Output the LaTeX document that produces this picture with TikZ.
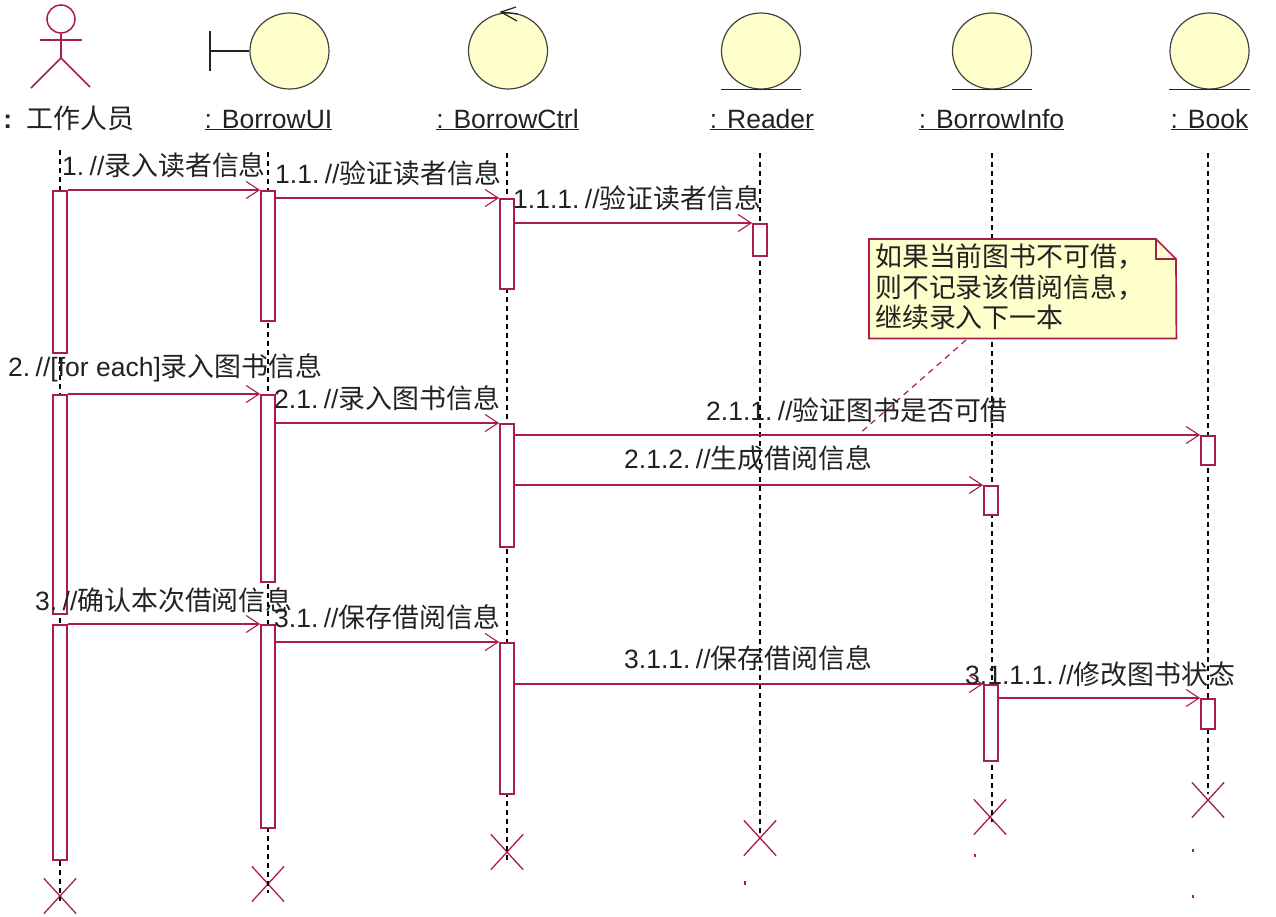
\documentclass[tikz,border=0pt]{standalone}
\usepackage{fontspec}
\setmainfont{Liberation Sans}
\newfontfamily\cjk{Noto Sans CJK SC}[Scale=1.015]
\newcommand{\zh}[1]{{\cjk #1}}
\newcommand{\msp}{\hspace{5.4pt}}
\usetikzlibrary{shapes.geometric,shapes.misc,arrows.meta}
\definecolor{uml}{HTML}{A81C50}
\definecolor{ink}{HTML}{222222}
\definecolor{note}{HTML}{FFFFCC}
\tikzset{
  every node/.style={text=ink,font=\fontsize{26.5}{30.5}\selectfont},
  obj/.style={ellipse,draw=ink!85,line width=1.2pt,fill=note,minimum width=79pt,minimum height=76pt,inner sep=0pt},
  head/.style={inner sep=0pt,anchor=base},
  msglabel/.style={anchor=west,inner sep=0pt},
  life/.style={draw=black,line width=1.4pt,dash pattern=on 5pt off 4pt},
  actbox/.style={rectangle,draw=uml,line width=1.7pt,fill=white,minimum width=14pt,inner sep=0pt,anchor=north},
  msg/.style={draw=uml,line width=1.7pt,-{Straight Barb[length=13pt,width=17pt,line width=1.1pt]}},
  endx/.style={cross out,draw=uml,line width=1.3pt,minimum width=31pt,minimum height=34pt,inner sep=0pt},
  umlline/.style={draw=uml,line width=1.7pt},
  inkline/.style={draw=ink,line width=1.5pt},
}
\begin{document}
\begin{tikzpicture}[x=1pt,y=-1pt]
\useasboundingbox (0,0) rectangle (1276,916);

% actor
\node[circle,draw=uml,line width=1.5pt,minimum size=28pt,inner sep=0pt] (head) at (61,19) {};
\coordinate (hip) at (61,58);
\coordinate (armL) at (40,40);
\coordinate (armR) at (82,40);
\coordinate (legL) at (31,88);
\coordinate (legR) at (90,87);
\draw[umlline] (head.south) -- (hip) -- (legL);
\draw[umlline] (hip) -- (legR);
\draw[umlline,line width=2pt] (armL) -- (armR);
\node[head] (actorlabel) at (69,128) {\textbf{:}\ \ \zh{工作人员}};

% objects
\node[obj] (ui) at (289.5,51) {};
\coordinate (uibarT) at (210,31);
\coordinate (uibarB) at (210,71);
\coordinate (uibarM) at (210,51);
\draw[inkline] (uibarT) -- (uibarB);
\draw[inkline] (uibarM) -- (ui.west);

\node[obj] (ctrl) at (508,51) {};
\coordinate (ctrlTip) at (501,12);
\draw[inkline,line width=1.2pt] (516,7) -- (ctrlTip) -- (517,21);
\draw[inkline,line width=1.2pt] (ctrlTip) -- (518,14);

\node[obj] (reader) at (761,51) {};
\node[obj] (info) at (992,51) {};
\node[obj] (book) at (1209.5,51) {};
\draw[inkline] (reader.west |- reader.south) -- (reader.east |- reader.south);
\draw[inkline] (info.west |- info.south) -- (info.east |- info.south);
\draw[inkline] (book.west |- book.south) -- (book.east |- book.south);

\node[head] (uilabel) at (268.5,128) {\underline{: BorrowUI}};
\node[head] (ctrllabel) at (507.5,128) {\underline{: BorrowCtrl}};
\node[head] (readerlabel) at (762,128) {\underline{: Reader}};
\node[head] (infolabel) at (991.5,128) {\underline{: BorrowInfo}};
\node[head] (booklabel) at (1209.5,128) {\underline{: Book}};

% destruction marks
\node[endx] (xa) at (60,896) {};
\node[endx] (xu) at (268,884) {};
\node[endx] (xc) at (507,852) {};
\node[endx] (xr) at (760,838) {};
\node[endx] (xi) at (990,817) {};
\node[endx] (xb) at (1208,800) {};

% lifelines
\coordinate (la) at (60,150);
\coordinate (lu) at (268,152);
\coordinate (lc) at (507,153);
\coordinate (lr) at (760,153);
\coordinate (li) at (992,153);
\coordinate (lb) at (1208,153);
\draw[life] (la) -- (60,901);
\draw[life] (lu) -- (268,893);
\draw[life] (lc) -- (507,862);
\draw[life] (lr) -- (760,833);
\draw[life] (li) -- (992,822);
\draw[life] (lb) -- (1208,794);

% note
\node[anchor=north west,minimum width=307pt,minimum height=99pt,inner sep=0pt] (notebox) at (869,239) {};
\coordinate (noteTarget) at (858,435);
\coordinate (noteFrom) at (966,340);
\draw[draw=uml,line width=1.2pt,dash pattern=on 6pt off 5pt] (noteFrom) -- (noteTarget);
\draw[umlline,fill=note] (notebox.north west) -- (1156,239) -- (1176,259) -- (notebox.south east) -- (notebox.south west) -- cycle;
\draw[umlline] (1156,239) -- (1156,259) -- (1176,259);
\node[anchor=west,align=left,inner sep=0pt] (notetext) at (875,287) {\zh{如果当前图书不可借，}\\\zh{则不记录该借阅信息，}\\\zh{继续录入下一本}};

% activations
\node[actbox,minimum height=162pt] (a1) at (60,190) {};
\node[actbox,minimum height=219pt] (a2) at (60,394) {};
\node[actbox,minimum height=235pt] (a3) at (60,624) {};
\node[actbox,minimum height=130pt] (u1) at (268,190) {};
\node[actbox,minimum height=187pt] (u2) at (268,394) {};
\node[actbox,minimum height=203pt] (u3) at (268,624) {};
\node[actbox,minimum height=90pt] (c1) at (507,198) {};
\node[actbox,minimum height=123pt] (c2) at (507,423) {};
\node[actbox,minimum height=151pt] (c3) at (507,642) {};
\node[actbox,minimum height=32pt] (r1) at (760,223) {};
\node[actbox,minimum height=29pt] (b1) at (1208,435) {};
\node[actbox,minimum height=30pt] (b2) at (1208,698) {};
\node[actbox,minimum height=29pt] (i1) at (991,485) {};
\node[actbox,minimum height=76pt] (i2) at (991,684) {};

% messages
\draw[msg] (a1.north east) -- (u1.north west);
\draw[msg] (u1.east |- c1.north) -- (c1.north west);
\draw[msg] (c1.east |- r1.north) -- (r1.north west);
\draw[msg] (a2.north east) -- (u2.north west);
\draw[msg] (u2.east |- c2.north) -- (c2.north west);
\draw[msg] (c2.east |- b1.north) -- (b1.north west);
\draw[msg] (c2.east |- i1.north) -- (i1.north west);
\draw[msg] (a3.north east) -- (u3.north west);
\draw[msg] (u3.east |- c3.north) -- (c3.north west);
\draw[msg] (c3.east |- i2.north) -- (i2.north west);
\draw[msg] (i2.east |- b2.north) -- (b2.north west);

% message labels
\node[msglabel] (m1) at (62,165) {1.\msp//\zh{录入读者信息}};
\node[msglabel] (m11) at (275,173) {1.1.\msp//\zh{验证读者信息}};
\node[msglabel] (m111) at (513,198) {1.1.1.\msp//\zh{验证读者信息}};
\node[msglabel] (m2) at (8,368) {2.\msp//[for each]\zh{录入图书信息}};
\node[msglabel] (m21) at (274,398) {2.1.\msp//\zh{录入图书信息}};
\node[msglabel] (m211) at (706,410) {2.1.1.\msp//\zh{验证图书是否可借}};
\node[msglabel] (m212) at (624,458) {2.1.2.\msp//\zh{生成借阅信息}};
\node[msglabel] (m3) at (35,600) {3.\msp//\zh{确认本次借阅信息}};
\node[msglabel] (m31) at (274,617) {3.1.\msp//\zh{保存借阅信息}};
\node[msglabel] (m311) at (624,658) {3.1.1.\msp//\zh{保存借阅信息}};
\node[msglabel] (m3111) at (965,674) {3.1.1.1.\msp//\zh{修改图书状态}};

% stray marks
\fill[uml] (744.3,881) rectangle (745.7,884.5);
\fill[uml] (974.3,853.5) rectangle (975.7,857);
\fill[uml] (1192.3,848.5) rectangle (1193.7,852);
\fill[uml] (1192.3,894.5) rectangle (1193.7,898);
\end{tikzpicture}
\end{document}
